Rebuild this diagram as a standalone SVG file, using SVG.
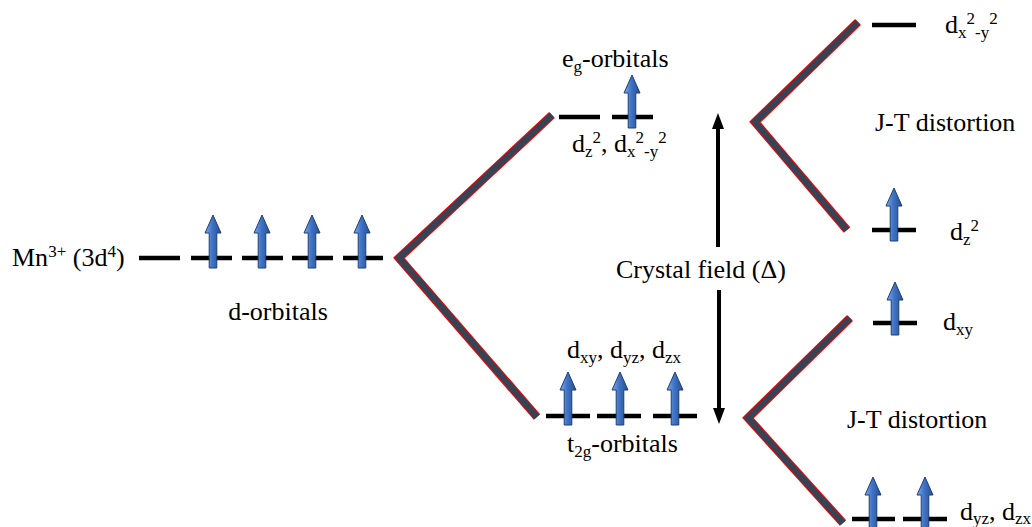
<svg xmlns="http://www.w3.org/2000/svg" xmlns:xlink="http://www.w3.org/1999/xlink" width="1032" height="527" viewBox="0 0 1032 527">
<style>
text{font-family:'Liberation Serif','Times New Roman','DejaVu Serif',serif;font-size:26px;fill:#000}
.s{font-size:17px}
.lvl{stroke:#000;stroke-width:4.5;fill:none}
.chO{stroke:#ff0000;stroke-width:8.5;fill:none;stroke-linejoin:miter;stroke-miterlimit:10}
.chI{stroke:#374354;stroke-width:6.5;fill:none;stroke-linejoin:miter;stroke-miterlimit:10}
.cf{stroke:#000;stroke-width:4;fill:none}
</style>
<defs>
<linearGradient id="bg" x1="0" y1="0" x2="1" y2="0">
<stop offset="0" stop-color="#7aaaf0"/>
<stop offset="0.45" stop-color="#3f73c4"/>
<stop offset="1" stop-color="#284f8e"/>
</linearGradient>
<path id="spin" d="M0,0 L8,18 L3.8,18 L3.8,53 L-3.8,53 L-3.8,18 L-8,18 Z" fill="url(#bg)" stroke="#1f3f73" stroke-width="1"/>
</defs>

<g id="connectors">
<g id="chevron-main">
<polyline class="chO" points="552,115 399,258 537,417"/>
<polyline class="chI" points="552,115 399,258 537,417"/>
</g>
<g id="chevron-eg">
<polyline class="chO" points="858,22 755,122 847,230"/>
<polyline class="chI" points="858,22 755,122 847,230"/>
</g>
<g id="chevron-t2g">
<polyline class="chO" points="850,318 748,418 843,523"/>
<polyline class="chI" points="850,318 748,418 843,523"/>
</g>
<g id="crystal-field-arrows">
<line class="cf" x1="718" y1="247" x2="718" y2="128"/>
<path d="M718,113 L724,129 L712,129 Z" fill="#000"/>
<line class="cf" x1="719" y1="290" x2="719" y2="409"/>
<path d="M719,424 L725,408 L713,408 Z" fill="#000"/>
</g>
</g>

<g id="node-mn">
<text x="12" y="266">Mn<tspan class="s" dy="-9">3+</tspan><tspan dy="9"> (3d</tspan><tspan class="s" dy="-9">4</tspan><tspan dy="9">)</tspan></text>
</g>

<g id="node-d-orbitals">
<line class="lvl" x1="139" y1="258" x2="180" y2="258"/>
<line class="lvl" x1="191" y1="258" x2="232" y2="258"/>
<line class="lvl" x1="242" y1="258" x2="283" y2="258"/>
<line class="lvl" x1="292" y1="258" x2="333" y2="258"/>
<line class="lvl" x1="343" y1="258" x2="383" y2="258"/>
<use xlink:href="#spin" x="213" y="215"/>
<use xlink:href="#spin" x="262" y="215"/>
<use xlink:href="#spin" x="312" y="215"/>
<use xlink:href="#spin" x="362" y="215"/>
<text x="278" y="320" text-anchor="middle">d-orbitals</text>
</g>

<g id="node-eg">
<text x="562" y="67">e<tspan class="s" dy="5">g</tspan><tspan dy="-5">-orbitals</tspan></text>
<line class="lvl" x1="559" y1="117" x2="600" y2="117"/>
<line class="lvl" x1="612" y1="117" x2="653" y2="117"/>
<use xlink:href="#spin" x="632" y="75"/>
<text x="572" y="152">d<tspan class="s" dy="5">z</tspan><tspan class="s" dy="-14">2</tspan><tspan dy="9">, d</tspan><tspan class="s" dy="5">x</tspan><tspan class="s" dy="-14">2</tspan><tspan class="s" dy="14">-y</tspan><tspan class="s" dy="-14">2</tspan></text>
</g>

<g id="node-t2g">
<text x="567" y="358">d<tspan class="s" dy="5">xy</tspan><tspan dy="-5">, d</tspan><tspan class="s" dy="5">yz</tspan><tspan dy="-5">, d</tspan><tspan class="s" dy="5">zx</tspan></text>
<line class="lvl" x1="546" y1="416" x2="590" y2="416"/>
<line class="lvl" x1="597" y1="416" x2="641" y2="416"/>
<line class="lvl" x1="653" y1="416" x2="697" y2="416"/>
<use xlink:href="#spin" x="568" y="372"/>
<use xlink:href="#spin" x="620" y="372"/>
<use xlink:href="#spin" x="675" y="372"/>
<text x="567" y="452">t<tspan class="s" dy="5">2g</tspan><tspan dy="-5">-orbitals</tspan></text>
</g>

<g id="node-crystal-field">
<text x="616" y="278">Crystal field (Δ)</text>
</g>

<g id="node-dx2y2">
<line class="lvl" x1="872" y1="25" x2="916" y2="25"/>
<text x="945" y="33">d<tspan class="s" dy="5">x</tspan><tspan class="s" dy="-14">2</tspan><tspan class="s" dy="14">-y</tspan><tspan class="s" dy="-14">2</tspan></text>
</g>

<g id="node-jt-top">
<text x="875" y="131">J-T distortion</text>
</g>

<g id="node-dz2">
<line class="lvl" x1="872" y1="230" x2="916" y2="230"/>
<use xlink:href="#spin" x="894" y="188"/>
<text x="950" y="240">d<tspan class="s" dy="5">z</tspan><tspan class="s" dy="-14">2</tspan></text>
</g>

<g id="node-dxy">
<line class="lvl" x1="873" y1="323" x2="917" y2="323"/>
<use xlink:href="#spin" x="895" y="282"/>
<text x="943" y="330">d<tspan class="s" dy="5">xy</tspan></text>
</g>

<g id="node-jt-bottom">
<text x="847" y="428">J-T distortion</text>
</g>

<g id="node-dyz-dzx">
<line class="lvl" x1="852" y1="519" x2="895" y2="519"/>
<line class="lvl" x1="903" y1="519" x2="947" y2="519"/>
<use xlink:href="#spin" x="873" y="477"/>
<use xlink:href="#spin" x="925" y="477"/>
<text x="960" y="520">d<tspan class="s" dy="4">yz</tspan><tspan dy="-4">, d</tspan><tspan class="s" dy="4">zx</tspan></text>
</g>
</svg>
